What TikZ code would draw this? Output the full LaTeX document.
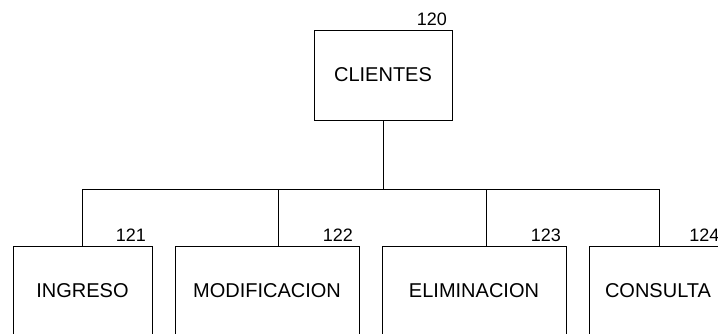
\documentclass[tikz,border=0pt]{standalone}
\usepackage{fontspec}
\setmainfont{Liberation Sans}
\usetikzlibrary{calc}

\begin{document}
\begin{tikzpicture}[x=1pt,y=-1pt]
                        % box = option of the menu, num = reference number over its corner
                        \tikzstyle{box}=[rectangle, draw=black, line width=1pt, inner sep=0pt, minimum height=90pt, font=\fontsize{20}{24}\selectfont]
                        \tikzstyle{num}=[inner sep=0pt, anchor=base east, font=\fontsize{18}{22}\selectfont]
                        \tikzstyle{link}=[black, line width=1pt]
                        \useasboundingbox (0,0) rectangle (718,333);
                        \clip (0,0) rectangle (718,333);

                        \node[box, minimum width=138pt] (cli) at (383,75) {CLIENTES};
                        \node[num] (n120) at ($(cli.north east)+(-5.5,-4)$) {120};

                        \node[box, minimum width=139pt] (ing) at (82.5,291) {INGRESO};
                        \node[num] (n121) at ($(ing.north east)+(-6.5,-4.5)$) {121};
                        \node[box, minimum width=184pt] (mod) at (267,291) {MODIFICACION};
                        \node[num] (n122) at ($(mod.north east)+(-6.5,-4.5)$) {122};
                        \node[box, minimum width=184pt] (eli) at (474,291) {ELIMINACION};
                        \node[num] (n123) at ($(eli.north east)+(-5.5,-4.5)$) {123};
                        \node[box, minimum width=138pt] (con) at (658,291) {CONSULTA};
                        \node[num] (n124) at ($(con.north east)+(-8,-4.5)$) {124};

                        % bus under CLIENTES and its taps
                        \coordinate (bus) at (cli.south |- 0,189);
                        \coordinate (t1) at (ing.north);
                        \coordinate (t2) at ($(mod.north)+(11,0)$);
                        \coordinate (t3) at ($(eli.north)+(12,0)$);
                        \coordinate (t4) at ($(con.north)+(1,0)$);
                        \coordinate (b1) at (t1 |- bus);
                        \coordinate (b4) at (t4 |- bus);

                        \draw[link] (cli.south) -- (bus);
                        \draw[link] (b1) -- (b4);
                        \draw[link] (b1) -- (t1);
                        \draw[link] (t2 |- bus) -- (t2);
                        \draw[link] (t3 |- bus) -- (t3);
                        \draw[link] (b4) -- (t4);
\end{tikzpicture}
\end{document}
